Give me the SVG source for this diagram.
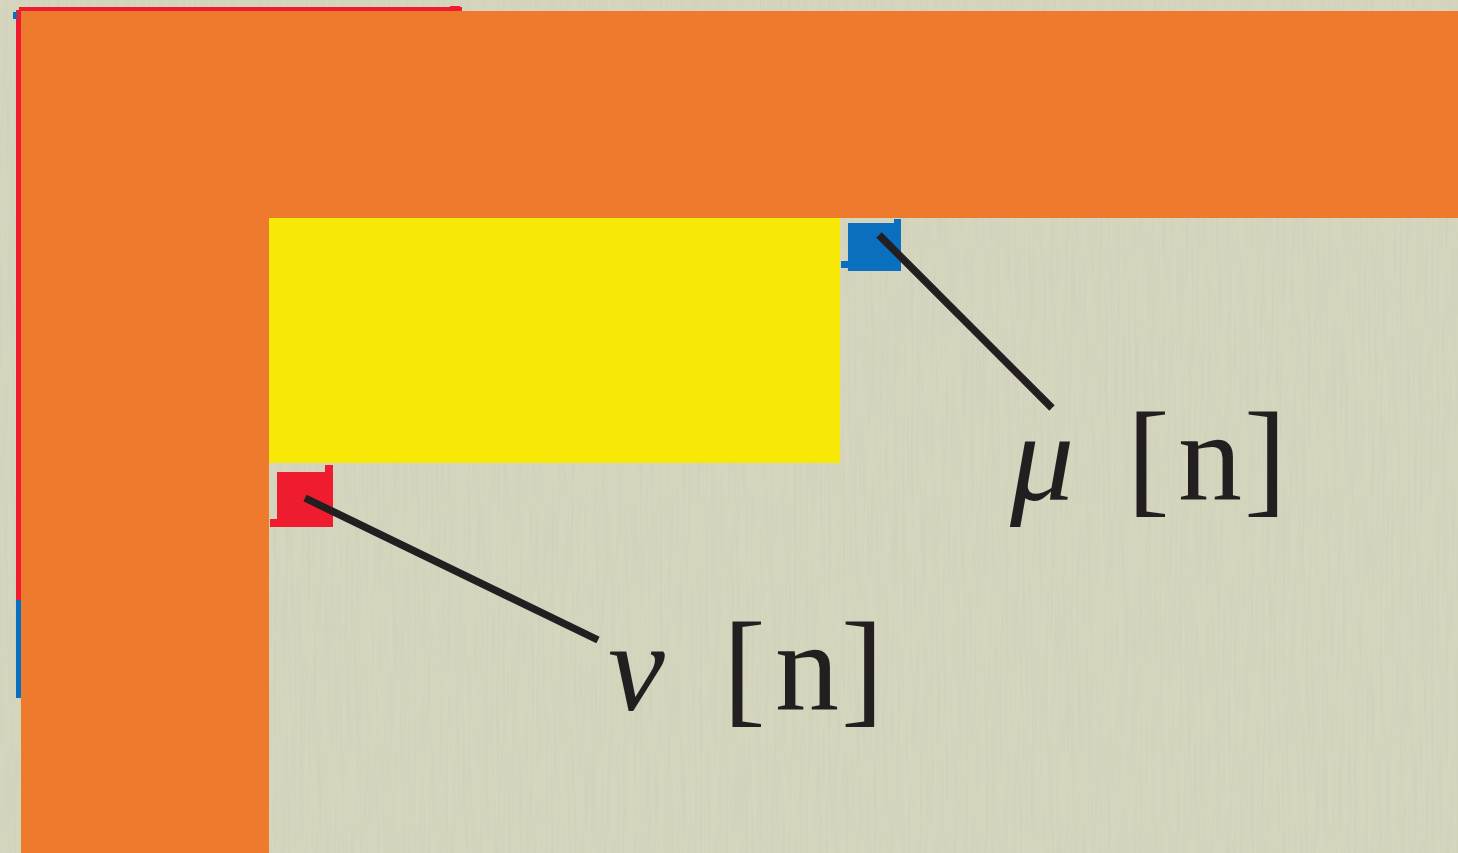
<svg xmlns="http://www.w3.org/2000/svg" width="1458" height="853" viewBox="0 0 1458 853">
  <defs>
    <!-- vertical paper grain -->
    <filter id="grain" x="0" y="0" width="100%" height="100%">
      <feTurbulence type="fractalNoise" baseFrequency="0.35 0.012" numOctaves="3" seed="4" result="n"/>
      <feColorMatrix in="n" type="matrix" values="0 0 0 0 0.55  0 0 0 0 0.55  0 0 0 0 0.45  0 0 0 1.3 -0.5"/>
    </filter>
    <style>
      .leader { stroke: #231f20; stroke-width: 7.5; fill: none; }
      .lbl { font-family: "Liberation Serif", "DejaVu Serif", serif; font-size: 128px; fill: #231f20; }
      .greek { font-style: italic; }
    </style>
  </defs>

  <!-- paper background -->
  <rect x="0" y="0" width="1458" height="853" fill="#d6d5be"/>
  <rect x="0" y="0" width="1458" height="853" filter="url(#grain)" opacity="0.45"/>

  <!-- outer frame edge markers -->
  <g id="frame-edges">
    <rect x="19" y="7" width="443" height="5" fill="#ee1c2e"/>
    <rect x="450" y="6" width="10" height="3" fill="#ee1c2e"/>
    <rect x="16" y="10" width="5" height="590" fill="#ee1c2e"/>
    <rect x="16" y="600" width="5" height="98" fill="#0a6fbf"/>
    <rect x="13" y="12" width="4" height="7" fill="#0a6fbf"/>
  </g>

  <!-- orange L-shaped band -->
  <g id="band">
    <path d="M21 11 H1458 V218 H269 V853 H21 Z" fill="#ee7a2e"/>
  </g>

  <!-- yellow block -->
  <g id="block">
    <rect x="269" y="218" width="571" height="245" fill="#f7e808"/>
  </g>

  <!-- corner markers -->
  <g id="mu-marker">
    <path d="M848 223 H894 V219 H901 V271 H848 V268 H841 V261 H848 Z" fill="#0a6fbf"/>
  </g>
  <g id="nu-marker">
    <path d="M277 472 H325 V465 H333 V527 H270 V519 H277 Z" fill="#ee1c2e"/>
  </g>

  <!-- leader lines -->
  <g id="connectors">
    <line class="leader" x1="879" y1="235" x2="1052" y2="408"/>
    <line class="leader" x1="305" y1="498" x2="598" y2="640"/>
  </g>

  <!-- labels -->
  <g id="mu-label">
    <text class="lbl"><tspan class="greek" x="1010" y="500">μ</tspan><tspan x="1127" y="500">[</tspan><tspan x="1178" y="500">n</tspan><tspan x="1244" y="500">]</tspan></text>
  </g>
  <g id="nu-label">
    <text class="lbl"><tspan class="greek" x="608" y="710">ν</tspan><tspan x="723" y="710">[</tspan><tspan x="775" y="710">n</tspan><tspan x="841" y="710">]</tspan></text>
  </g>
</svg>
